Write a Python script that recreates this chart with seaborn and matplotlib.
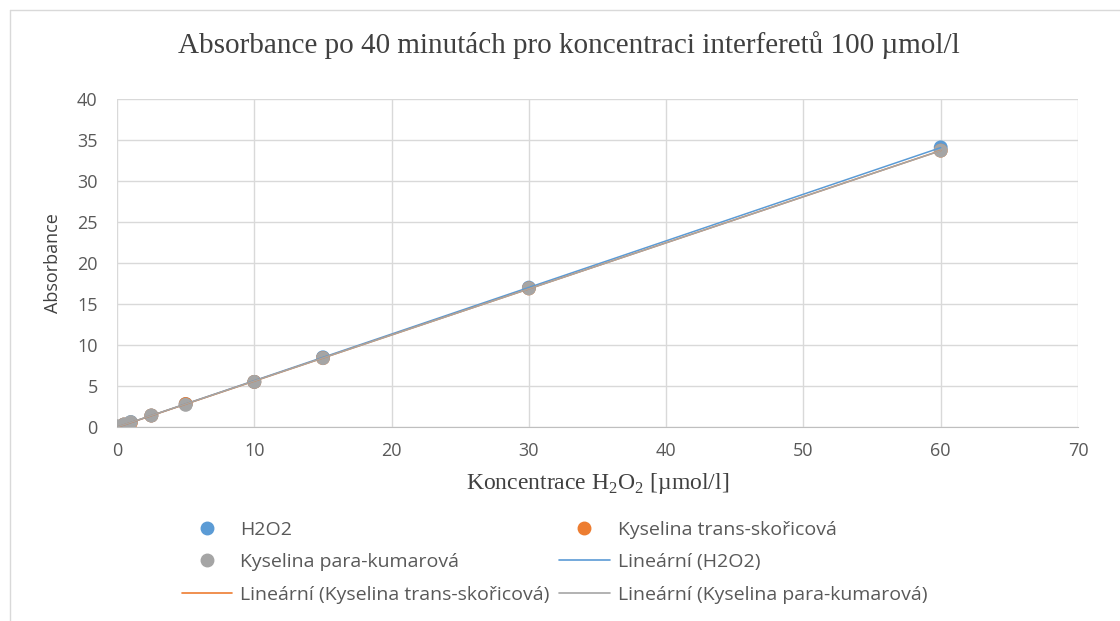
import numpy as np
import pandas as pd
import seaborn as sb
import matplotlib.pyplot as plt
from matplotlib.lines import Line2D

# koncentrace H2O2 [umol/l]
conc = [0, 0.5, 1, 2.5, 5, 10, 15, 30, 60]
# absorbance
h2o2 = [0.0, 0.3, 0.6, 1.4, 2.8, 5.5, 8.5, 17.0, 34.1]
trans = [0.0, 0.3, 0.5, 1.4, 2.8, 5.5, 8.4, 16.9, 33.7]
para = [0.1, 0.3, 0.6, 1.4, 2.7, 5.5, 8.4, 16.9, 33.7]
names = ['H2O2', 'Kyselina trans-skořicová', 'Kyselina para-kumarová']
colors = ['#5B9BD5', '#ED7D31', '#A5A5A5']

sb.set_style('white')
plt.rcParams['font.family'] = ['Open Sans', 'DejaVu Sans']
plt.rcParams['mathtext.fontset'] = 'custom'
plt.rcParams['mathtext.rm'] = 'Liberation Serif'

df = pd.DataFrame({'conc': conc * 3,
                   'abs': h2o2 + trans + para,
                   'serie': [n for n in names for _ in conc]})

fig = plt.figure(figsize=(11.2, 6.21), dpi=100)
ax = fig.add_axes([0.1045, 0.3124, 0.858, 0.5282])

sb.scatterplot(data=df, x='conc', y='abs', hue='serie', palette=colors,
               s=100, edgecolor='none', legend=False, ax=ax, zorder=3)

# linearni trendy
for name, vals, col in zip(names, [h2o2, trans, para], colors):
    k, q = np.polyfit(conc, vals, 1)
    xs = [min(conc), max(conc)]
    sb.lineplot(x=xs, y=[k * v + q for v in xs], color=col, lw=1.1, ax=ax, zorder=4)

ax.set_xlim(0, 70)
ax.set_ylim(0, 40)
ax.set_xticks(range(0, 71, 10))
ax.set_yticks(range(0, 41, 5))
ax.grid(True, color='#D9D9D9', lw=1)
for s in ['top', 'right', 'left']:
    ax.spines[s].set_visible(False)
ax.spines['bottom'].set_color('#BFBFBF')
ax.tick_params(axis='both', length=0, labelsize=13, labelcolor='#595959')
ax.tick_params(axis='y', pad=14)
ax.tick_params(axis='x', pad=11)

ax.set_xlabel('Koncentrace H$_2$O$_2$ [µmol/l]', fontsize=17, family='Liberation Serif',
              color='#404040', labelpad=8)
ax.set_ylabel('Absorbance', fontsize=13, color='#404040', labelpad=11)
fig.text(0.508, 1 - 45 / 621,
         'Absorbance po 40 minutách pro koncentraci interferetů 100 µmol/l',
         fontsize=21, family='Liberation Serif', color='#404040', ha='center', va='center')

pt = lambda c: Line2D([], [], marker='o', ls='none', color=c, markersize=9)
ln = lambda c: Line2D([], [], color=c, lw=1.2)
handles = [pt(colors[0]), pt(colors[2]), ln(colors[1]),
           pt(colors[1]), ln(colors[0]), ln(colors[2])]
labels = ['H2O2', 'Kyselina para-kumarová', 'Lineární (Kyselina trans-skořicová)',
          'Kyselina trans-skořicová', 'Lineární (H2O2)', 'Lineární (Kyselina para-kumarová)']
fig.legend(handles, labels, ncol=2, loc='upper center', bbox_to_anchor=(0.495, 0.19),
           frameon=False, fontsize=14, labelcolor='#595959', handlelength=2.6,
           handletextpad=0.4, columnspacing=0.5, labelspacing=0.75)

# ramecek grafu
fig.add_artist(plt.Line2D([10 / 1120, 10 / 1120], [0, 1 - 10 / 621],
                          transform=fig.transFigure, color='#D9D9D9', lw=1))
fig.add_artist(plt.Line2D([10 / 1120, 1], [1 - 10 / 621, 1 - 10 / 621],
                          transform=fig.transFigure, color='#D9D9D9', lw=1))

fig.savefig('out.png', dpi=100)
